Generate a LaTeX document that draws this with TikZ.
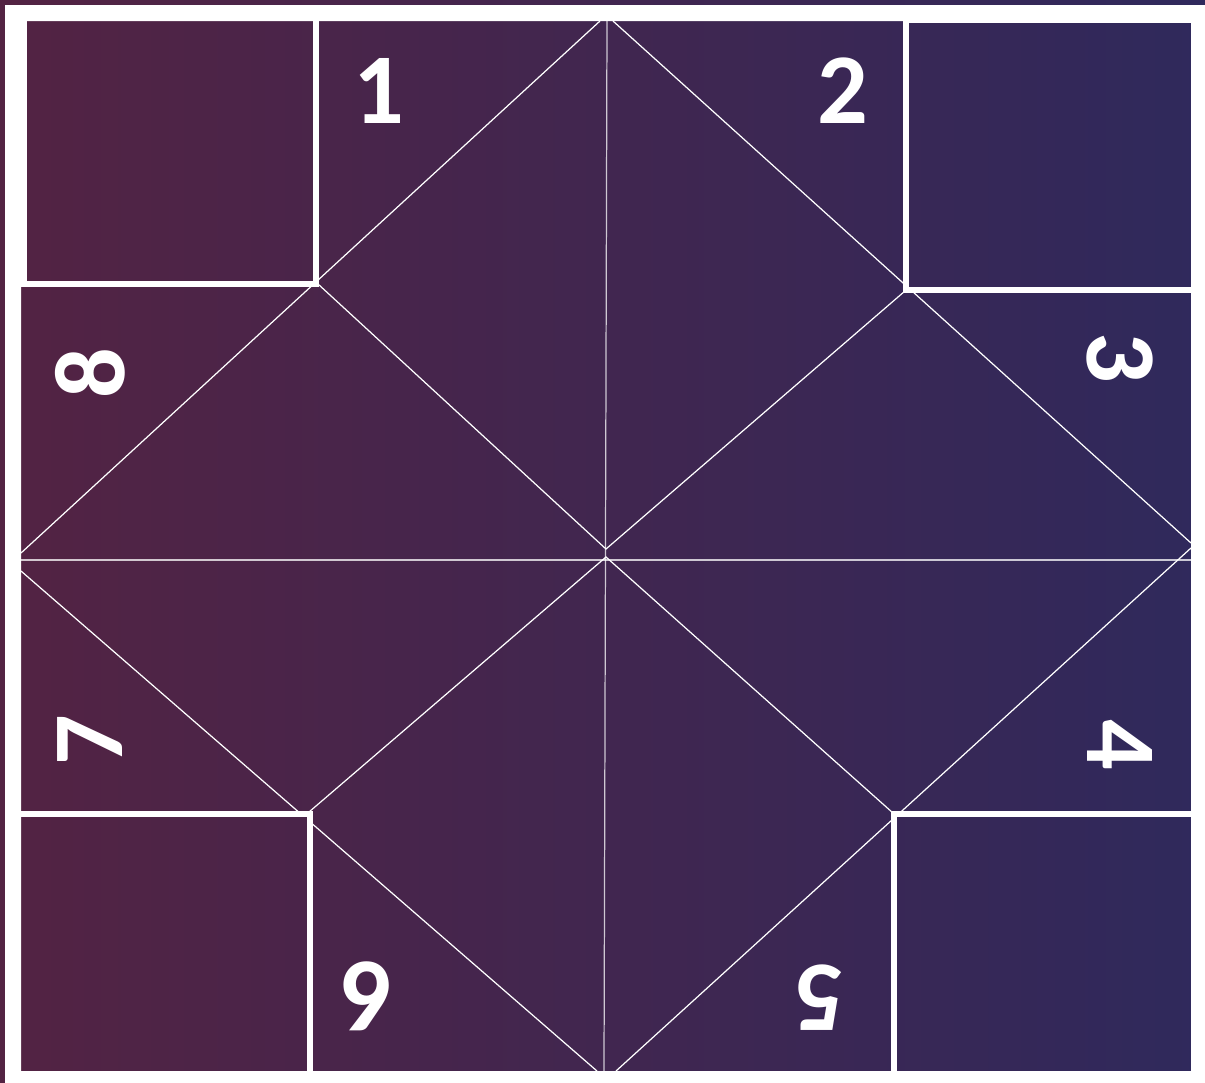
\documentclass[tikz,border=0pt]{standalone}
\usepackage{fontspec}
\setsansfont{Carlito}
\definecolor{leftpurple}{HTML}{532343}
\definecolor{rightpurple}{HTML}{2F295C}

\begin{document}
\begin{tikzpicture}[
  x=0.02cm, y=-0.02cm,
  fold/.style={draw=white, line width=0.7pt},
  midfold/.style={fold, draw opacity=0.75},
  flap/.style={draw=white, line width=3.4pt},
  num/.style={text=white, font=\sffamily\bfseries\fontsize{57}{57}\selectfont,
              inner sep=0pt}
]

%% --- background and paper ---------------------------------------------------
\useasboundingbox (0,0) rectangle (1205,1083);
\shade[left color=leftpurple, right color=rightpurple] (0,0) rectangle (1205,1083);
\fill[white, even odd rule] (5,5) rectangle (1205,1083) (21,21) rectangle (1191,1071);

%% --- fold points ------------------------------------------------------------
\coordinate (topL) at (600,21);
\coordinate (topR) at (613,21);
\coordinate (topM) at (607,21);
\coordinate (botM) at (604,1071);
\coordinate (botL) at (597,1071);
\coordinate (botR) at (616,1071);
\coordinate (lftU) at (21,553);
\coordinate (lftD) at (21,571);
\coordinate (lftM) at (21,560);
\coordinate (rgtU) at (1191,543);
\coordinate (rgtD) at (1191,548);
\coordinate (rgtM) at (1191,560);
\coordinate (cnr_tl) at (318,284);
\coordinate (cnr_tr) at (905,291);
\coordinate (cnr_bl) at (309,812);
\coordinate (cnr_br) at (893,813);
\coordinate (ctrU) at (606,549);
\coordinate (ctrD) at (606,557);

%% --- fold lines (kept out of the corner flaps) ------------------------------
\begin{scope}[even odd rule]
  \clip (21,21) rectangle (1191,1071)
        (24,18) rectangle (316,284) (906,20) rectangle (1194,290)
        (18,814) rectangle (310,1074) (894,814) rectangle (1194,1074);
  \draw[midfold] (topM) -- (botM);
  \draw[midfold] (lftM) -- (rgtM);
  \draw[fold] (topL) -- (lftU);
  \draw[fold] (topR) -- (rgtU);
  \draw[fold] (lftD) -- (botL);
  \draw[fold] (rgtD) -- (botR);
  \draw[fold] (cnr_tl) -- (ctrU) -- (cnr_tr);
  \draw[fold] (cnr_bl) -- (ctrD) -- (cnr_br);
\end{scope}

%% --- corner flaps -----------------------------------------------------------
\draw[flap] (24,18) rectangle (316,284);
\draw[flap] (906,20) rectangle (1194,290);
\draw[flap] (18,814) rectangle (310,1074);
\draw[flap] (894,814) rectangle (1194,1074);

%% --- numbers ----------------------------------------------------------------
\node[num]             (n1) at (379,91)   {1};
\node[num]             (n2) at (843,91)   {2};
\node[num, rotate=-90] (n3) at (1120,358) {3};
\node[num, rotate=-90] (n4) at (1120,745) {4};
\node[num, rotate=180] (n5) at (819,998)  {5};
\node[num, rotate=180] (n6) at (367,996)  {6};
\node[num, rotate=90]  (n7) at (90,740)   {7};
\node[num, rotate=90]  (n8) at (90,373)   {8};

\end{tikzpicture}
\end{document}
